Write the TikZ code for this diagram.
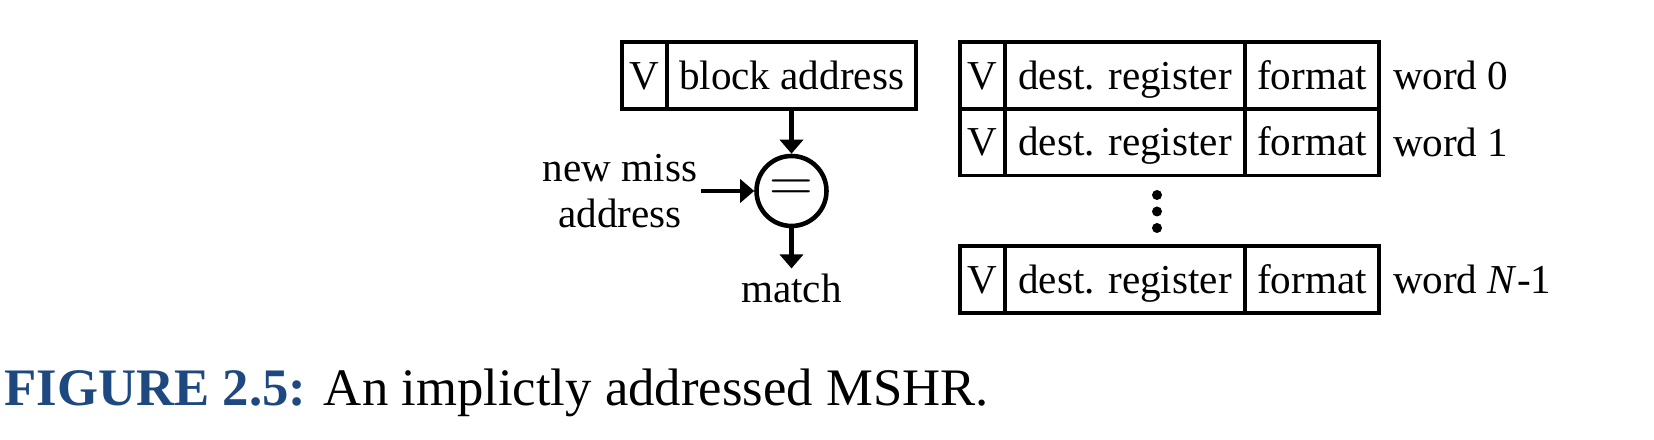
\documentclass[tikz,border=0pt]{standalone}
\usepackage{fontspec}
\setmainfont{Liberation Serif}
\usetikzlibrary{arrows.meta,positioning}
\definecolor{CapClr}{RGB}{30,72,128}

\begin{document}
\begin{tikzpicture}[
  cell/.style={draw,line width=0.9pt,minimum height=0.67cm,inner sep=0pt,
    text height=8.2pt,text depth=0.4pt,font=\fontsize{11.7}{13}\selectfont},
  lbl/.style={font=\fontsize{11.7}{13}\selectfont},
  cmpc/.style={draw,circle,line width=1.3pt,minimum size=0.70cm,inner sep=0pt,
    font=\fontsize{17}{17}\selectfont},
  arr/.style={line width=1.3pt,-{Triangle[length=0.14cm,width=0.23cm]}}]
\useasboundingbox (0,0) rectangle (16.54,-4.40);

% block address entry and comparator
\node[cell,minimum width=0.45cm] (bv) at (6.445,-0.755) {V};
\node[cell,minimum width=2.49cm] (blk) at (7.915,-0.755) {block address};
\node[cmpc] (cmp) at (7.915,-1.91) {$=$};
\node[lbl,align=center,inner sep=1pt] (nma) at (6.20,-1.91) {new miss\\address};
\node[lbl,anchor=base,inner sep=1.5pt] (mt) at (7.915,-3.03) {match};

\draw[arr] (blk.south) -- (cmp.north);
\draw[arr] (nma.east) -- (cmp.west);
\draw[arr] (cmp.south) -- (mt.north);

% word entries
\node[cell,minimum width=0.45cm] (v0) at (9.825,-0.755) {V};
\node[cell,minimum width=2.40cm] (d0) at (11.25,-0.755) {dest. register};
\node[cell,minimum width=1.34cm] (f0) at (13.12,-0.755) {format};
\node[lbl,right=0pt of f0] (w0) {word 0};

\node[cell,minimum width=0.45cm] (v1) at (9.825,-1.42) {V};
\node[cell,minimum width=2.40cm] (d1) at (11.25,-1.42) {dest. register};
\node[cell,minimum width=1.34cm] (f1) at (13.12,-1.42) {format};
\node[lbl,right=0pt of f1] (w1) {word 1};

\node[cell,minimum width=0.45cm] (vn) at (9.825,-2.795) {V};
\node[cell,minimum width=2.40cm] (dn) at (11.25,-2.795) {dest. register};
\node[cell,minimum width=1.34cm] (fn) at (13.12,-2.795) {format};
\node[lbl,right=0pt of fn] (wn) {word \textit{N}-1};

\fill (11.57,-1.95) circle (0.05);
\fill (11.57,-2.115) circle (0.05);
\fill (11.57,-2.28) circle (0.05);

% caption
\node[anchor=base west,inner sep=0pt,font=\fontsize{15}{18}\selectfont] (cap) at (0.04,-4.06)
  {\textcolor{CapClr}{\textbf{FIGURE 2.5:}} An implictly addressed MSHR.};

\end{tikzpicture}
\end{document}
